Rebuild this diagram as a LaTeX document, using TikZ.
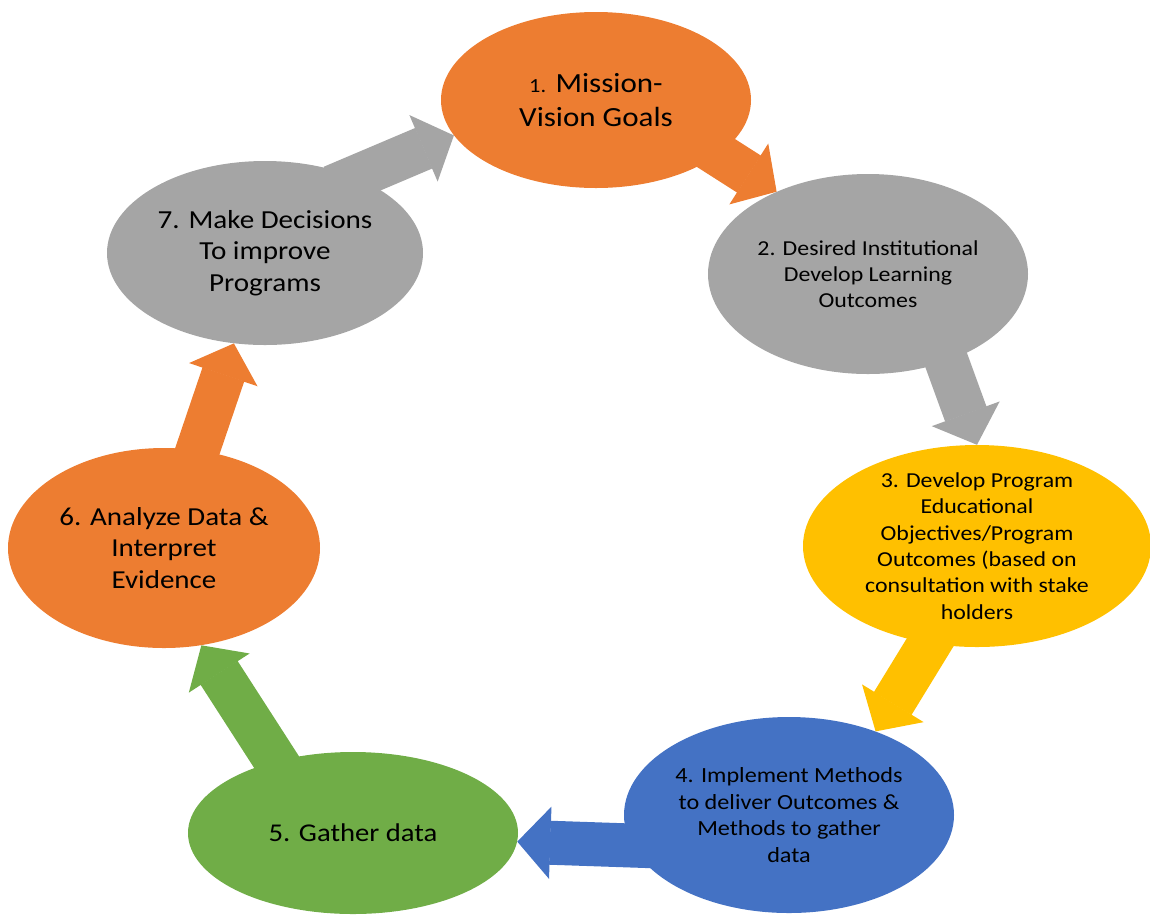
\documentclass[tikz,border=0pt]{standalone}
\usepackage{fontspec}
\setmainfont{Carlito}[FakeStretch=1.12]
\usetikzlibrary{shapes.geometric,arrows.meta,backgrounds}

\definecolor{mvorange}{HTML}{ED7D31}
\definecolor{mvgray}{HTML}{A5A5A5}
\definecolor{mvyellow}{HTML}{FFC000}
\definecolor{mvblue}{HTML}{4472C4}
\definecolor{mvgreen}{HTML}{70AD47}

\tikzset{
  stage/.style={ellipse,inner sep=-20pt,align=center,text=black},
  flow/.style={line width=44pt,shorten <=-25pt,
    -{Triangle[length=33pt,width=72pt,line width=1.5pt]}}
}

\begin{document}
\begin{tikzpicture}[x=1pt,y=-1pt]
\useasboundingbox (0,0) rectangle (1150,914);

\node[stage,fill=mvorange,minimum width=310pt,minimum height=176pt,
  font=\fontsize{27.7}{34}\selectfont] (mission) at (596,100)
  {{\fontsize{20}{34}\selectfont 1.} Mission-\\Vision Goals};
\node[stage,fill=mvgray,minimum width=320pt,minimum height=200pt,
  font=\fontsize{21.3}{26}\selectfont] (outcomes) at (868,274)
  {2. Desired Institutional\\Develop Learning\\Outcomes};
\node[stage,fill=mvyellow,minimum width=348pt,minimum height=202pt,
  font=\fontsize{21.3}{26.4}\selectfont] (objectives) at (977,546)
  {3. Develop Program\\Educational\\Objectives/Program\\Outcomes (based on\\consultation with stake\\holders};
\node[stage,fill=mvblue,minimum width=330pt,minimum height=196pt,
  font=\fontsize{21.6}{26.7}\selectfont] (implement) at (789,815)
  {4. Implement Methods\\to deliver Outcomes \&\\Methods to gather\\data};
\node[stage,fill=mvgreen,minimum width=330pt,minimum height=162pt,
  font=\fontsize{25.6}{31.5}\selectfont] (gather) at (353,833)
  {5. Gather data};
\node[stage,fill=mvorange,minimum width=312pt,minimum height=200pt,
  font=\fontsize{25.9}{31.5}\selectfont] (analyze) at (164,548)
  {6. Analyze Data \&\\Interpret\\Evidence};
\node[stage,fill=mvgray,minimum width=316pt,minimum height=184pt,
  font=\fontsize{26}{31.7}\selectfont] (decide) at (265,253)
  {7. Make Decisions\\To improve\\Programs};

% block arrows behind the ellipses
\begin{scope}[on background layer]
\draw[flow,mvorange] (mission.336) -- (outcomes.138);
\draw[flow,mvgray] (outcomes.312) -- (objectives.90);
\draw[flow,mvyellow] (objectives.244) -- (implement.44);
\draw[flow,mvblue] (implement.191) -- (gather.357);
\draw[flow,mvgreen] (gather.137) -- (analyze.291);
\draw[flow,mvorange] (analyze.71) -- (decide.251);
\draw[flow,mvgray] (decide.40) -- (mission.194);
\end{scope}
\end{tikzpicture}
\end{document}
